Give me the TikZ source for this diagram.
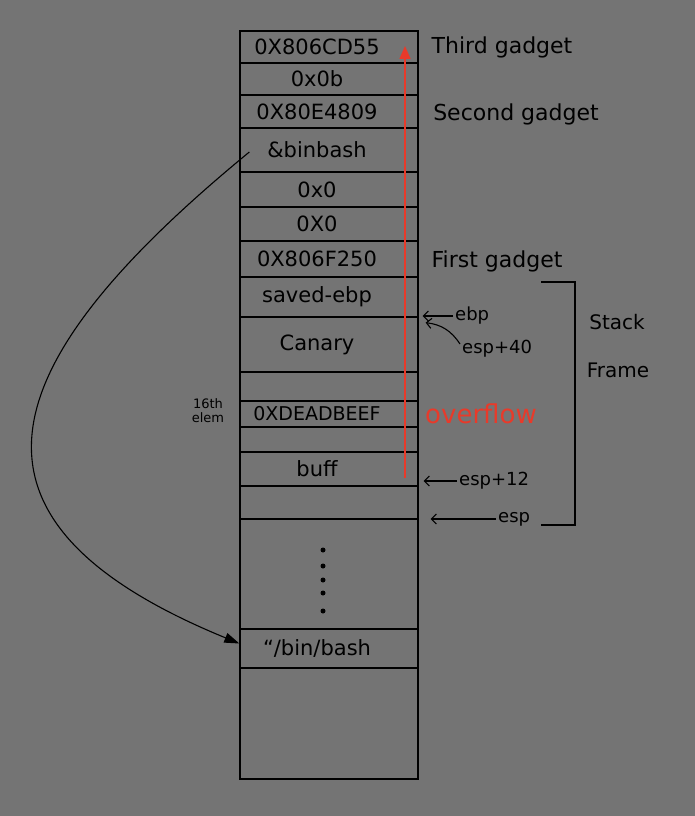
\documentclass[tikz,border=0pt]{standalone}
\usepackage{fontspec}
\setmainfont{DejaVu Sans}
\usetikzlibrary{arrows.meta}
\definecolor{paper}{RGB}{116,116,116}
\definecolor{ovfred}{RGB}{232,58,42}

\begin{document}
\begin{tikzpicture}[
    x=1pt, y=-1pt,
    cell/.style={rectangle, draw, line width=1.3pt, minimum width=178pt, inner sep=0pt, font=\fontsize{21}{24}\selectfont, execute at begin node=\hspace*{-24pt}},
    note/.style={font=\fontsize{22}{26}\selectfont},
    reg/.style={anchor=west, inner sep=2pt, font=\fontsize{18}{22}\selectfont},
    ptr/.style={-{Straight Barb[length=5pt,width=10pt]}, line width=1.1pt}
]
% Background
\fill[paper] (0,0) rectangle (695,816);
\useasboundingbox (0,0) rectangle (695,816);

% Stack cells
\node[cell, minimum height=32pt] (gthree) at (329,47) {0X806CD55};
\node[cell, minimum height=32pt] (sysno) at (329,79) {0x0b};
\node[cell, minimum height=33pt] (gtwo) at (329,111.5) {0X80E4809};
\node[cell, minimum height=44pt] (binptr) at (329,150) {\&binbash};
\node[cell, minimum height=35pt] (nulla) at (329,189.5) {0x0};
\node[cell, minimum height=34pt] (nullb) at (329,224) {0X0};
\node[cell, minimum height=36pt] (gone) at (329,259) {0X806F250};
\node[cell, minimum height=40pt] (savedebp) at (329,297) {saved-ebp};
\node[cell, minimum height=55pt] (canary) at (329,344.5) {Canary};
\node[cell, minimum height=29pt] (pada) at (329,386.5) {};
\node[cell, minimum height=26pt, font=\fontsize{19}{21}\selectfont] (elem) at (329,414) {0XDEADBEEF};
\node[cell, minimum height=25pt] (padb) at (329,439.5) {};
\node[cell, minimum height=34pt] (buff) at (329,469) {buff};
\node[cell, minimum height=33pt] (padc) at (329,502.5) {};
\node[cell, minimum height=110pt] (gap) at (329,574) {};
\node[cell, minimum height=39pt] (binsh) at (329,648.5) {“/bin/bash};
\node[cell, minimum height=111pt] (bottom) at (329,723.5) {};

% Dots
\foreach \y in {550,566,580,593,611}
    \fill (323,\y) circle (2.5pt);

% Overflow direction
\coordinate (ovfstart) at (405,478);
\coordinate (ovfend) at (405,46);
\draw[ovfred, line width=1.6pt, -{Triangle[length=13pt,width=11pt]}] (ovfstart) -- (ovfend);

% Pointer to the string
\draw[line width=1.1pt, -{Triangle[length=15pt,width=10pt]}] ([xshift=10pt,yshift=-2pt]binptr.west) .. controls (-10,365) and (-62,520) .. ([yshift=5pt]binsh.west);

% Labels
\node[note] (third) at (502,47) {Third gadget};
\node[note] (second) at (516,114) {Second gadget};
\node[note] (first) at (497,261) {First gadget};
\node[note, font=\fontsize{20}{24}\selectfont] (stack) at (617,322) {Stack};
\node[note, font=\fontsize{20}{24}\selectfont] (frame) at (618,370) {Frame};
\node[note, text=ovfred, font=\fontsize{26}{30}\selectfont] (ovf) at (481,414) {overflow};
\node[font=\fontsize{13}{14}\selectfont, align=center] (nth) at (208,411) {16th\\elem};

% Registers
\node[reg] (ebp) at (453,316) {ebp};
\node[reg] (espforty) at (460,349) {esp+40};
\node[reg] (esptwelve) at (457,481) {esp+12};
\node[reg] (esp) at (496,519) {esp};
\draw[ptr] (ebp.west) -- ([xshift=4pt]ebp.west -| savedebp.east);
\draw[ptr] ([yshift=5pt]espforty.west) to[bend right=25] ([xshift=7pt,yshift=-5pt]savedebp.south east);
\draw[ptr] (esptwelve.west) -- ([xshift=5pt]esptwelve.west -| buff.east);
\draw[ptr] (esp.west) -- ([xshift=12pt]esp.west -| padc.east);

% Frame bracket
\coordinate (frametop) at (541,282);
\coordinate (framebot) at (541,525);
\draw[line width=1.1pt] (frametop) -- ++(34,0) |- (framebot);
\end{tikzpicture}
\end{document}
